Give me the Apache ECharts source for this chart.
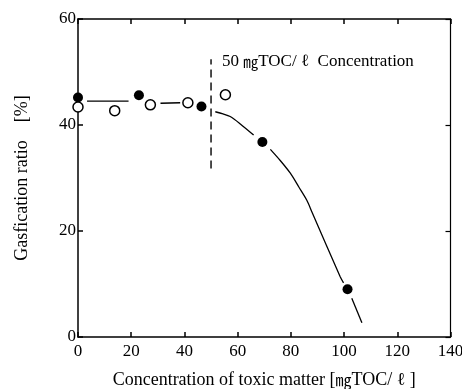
<!DOCTYPE html>
<html>
<head>
<meta charset="utf-8">
<script src="https://cdn.jsdelivr.net/npm/echarts@6/dist/echarts.min.js"></script>
<style>
  html, body { margin: 0; padding: 0; background: #fff; }
  #main { width: 462px; height: 389px; }
</style>
</head>
<body>
<div id="main"></div>
<script>
// points: [concentration, gasfication ratio]
var filledPts = [[0, 45.2], [22.9, 45.6], [46.4, 43.5], [69.3, 36.8], [101.3, 9.0]];
var openPts = [[0, 43.4], [13.8, 42.7], [27.2, 43.8], [41.3, 44.2], [55.4, 45.7]];

// fitted curve, drawn in pieces (it breaks around the markers)
var curve1 = [[3.4, 44.5], [19, 44.5]];
var curve2 = [[31, 44.1], [38.4, 44.2]];
var curve3 = [[51.6, 42.5], [54.5, 42.1], [57.2, 41.6], [61, 40.2], [66, 38.1]];
var curve4 = [[72.3, 35.4], [76, 33.3], [79.8, 30.9], [83, 28.3], [86, 25.8], [88, 23.5], [98.5, 11.4], [99.8, 10.2]];
var curve5 = [[102.9, 7.3], [106.7, 2.7]];

// 50 mgTOC/l marker line
var limitLine = [[50, 31.8], [50, 52.4]];

var font = '"Liberation Serif", "DejaVu Serif", serif';

function curveSeries(d) {
	return {
		type: 'line',
		data: d,
		xAxisIndex: 0,
		yAxisIndex: 0,
		symbol: 'none',
		smooth: 0.3,
		lineStyle: { color: '#000', width: 1.3 },
		z: 2
	};
}

var myChart = echarts.init(document.getElementById('main'));

function axisLine(w) {
	return { show: true, onZero: false, lineStyle: { color: '#000', width: w } };
}

var option = {
	animation: false,
	backgroundColor: '#fff',
	grid: { left: 78, right: 11.5, top: 19, bottom: 52, containLabel: false, outerBoundsMode: 'none' },
	xAxis: [{
		type: 'value',
		min: 0, max: 140, interval: 20,
		position: 'bottom',
		axisLine: axisLine(1.5),
		axisTick: { inside: true, length: 5, lineStyle: { color: '#000', width: 1.5 } },
		axisLabel: { color: '#000', fontFamily: font, fontSize: 17, margin: 6 },
		splitLine: { show: false },
		name: 'Concentration of toxic matter [{mg|㎎}TOC/ ℓ ]',
		nameLocation: 'middle',
		nameGap: 34,
		nameTextStyle: {
			color: '#000', fontFamily: font, fontSize: 18,
			rich: { mg: { fontFamily: '"Noto Sans CJK JP"', fontSize: 16, color: '#000' } }
		}
	}, {
		type: 'value',
		min: 0, max: 140, interval: 20,
		position: 'top',
		axisLine: axisLine(1.5),
		axisTick: { inside: true, length: 5, lineStyle: { color: '#000', width: 1.5 } },
		axisLabel: { show: false },
		splitLine: { show: false }
	}],
	yAxis: [{
		type: 'value',
		min: 0, max: 60, interval: 20,
		position: 'left',
		axisLine: axisLine(1.5),
		axisTick: { inside: true, length: 5, lineStyle: { color: '#000', width: 1.5 } },
		axisLabel: { color: '#000', fontFamily: font, fontSize: 17, margin: 2 },
		splitLine: { show: false },
		name: 'Gasfication ratio    [%]',
		nameLocation: 'middle',
		nameGap: 47,
		nameTextStyle: { color: '#000', fontFamily: font, fontSize: 18 }
	}, {
		type: 'value',
		min: 0, max: 60, interval: 20,
		position: 'right',
		axisLine: axisLine(1.2),
		axisTick: { inside: true, length: 5, lineStyle: { color: '#000', width: 1.2 } },
		axisLabel: { show: false },
		splitLine: { show: false }
	}],
	graphic: [{
		type: 'text',
		left: 222,
		top: 53,
		style: {
			text: '50 {mg|㎎}TOC/ ℓ  Concentration',
			font: '17px ' + font,
			fill: '#000',
			rich: { mg: { fontFamily: '"Noto Sans CJK JP"', fontSize: 15, fill: '#000' } }
		}
	}],
	series: [
		curveSeries(curve1),
		curveSeries(curve2),
		curveSeries(curve3),
		curveSeries(curve4),
		curveSeries(curve5),
		{
			// bound to the top/right axes so that they get drawn too
			type: 'line',
			data: limitLine,
			xAxisIndex: 1,
			yAxisIndex: 1,
			symbol: 'none',
			lineStyle: { color: '#000', width: 1.4, type: [8, 5] },
			z: 2
		},
		{
			type: 'scatter',
			data: filledPts,
			symbol: 'circle',
			symbolSize: 10,
			itemStyle: { color: '#000', opacity: 1 },
			z: 3
		},
		{
			type: 'scatter',
			data: openPts,
			symbol: 'circle',
			symbolSize: 10,
			itemStyle: { color: '#fff', borderColor: '#000', borderWidth: 1.5, opacity: 1 },
			z: 3
		}
	]
};

myChart.setOption(option);
</script>
</body>
</html>
